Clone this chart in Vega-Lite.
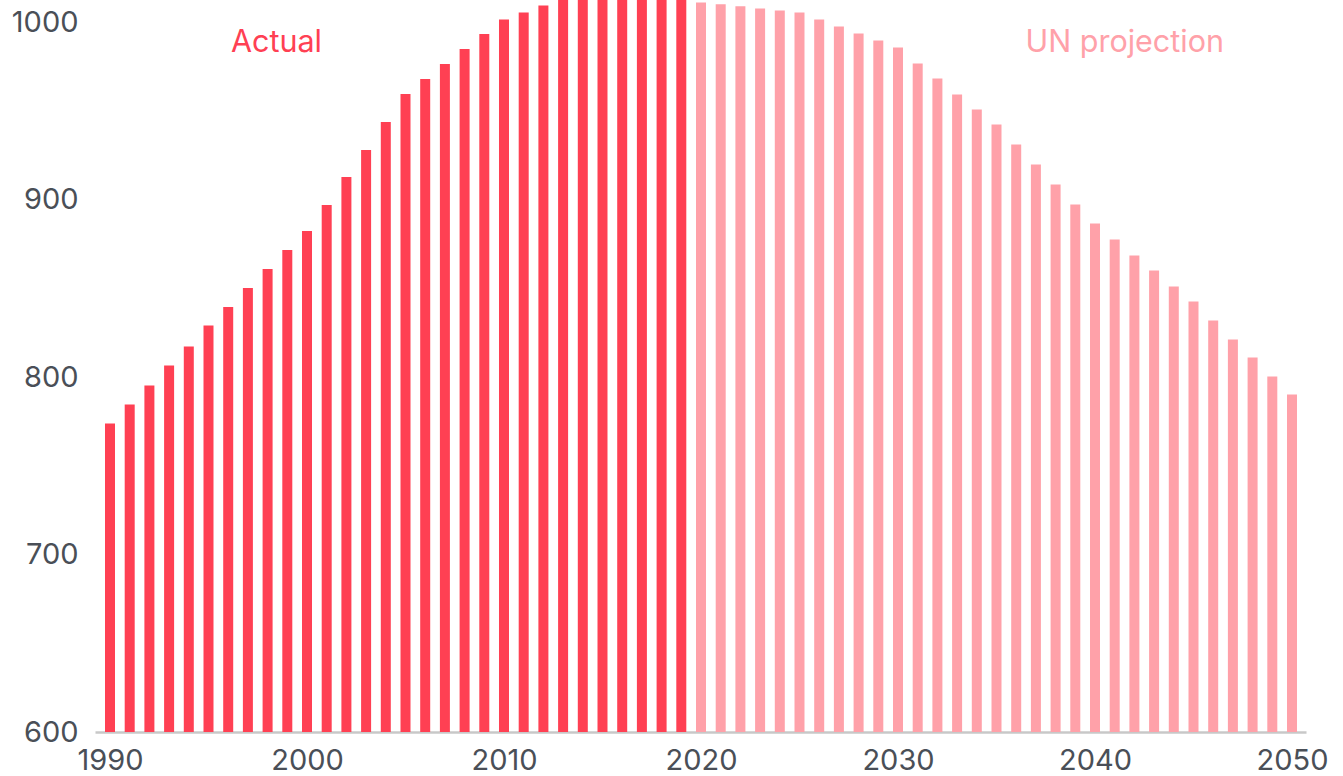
{
  "$schema": "https://vega.github.io/schema/vega-lite/v6.json",
  "autosize": "none",
  "width": 1211,
  "height": 732,
  "padding": {"left": 95, "top": 0, "right": 37, "bottom": 44},
  "background": "white",
  "config": {
    "view": {"stroke": null},
    "font": "Inter"
  },
  "datasets": {
    "bars": [
      {"year": 1990, "value": 773.8, "series": "Actual"},
      {"year": 1991, "value": 784.5, "series": "Actual"},
      {"year": 1992, "value": 795.2, "series": "Actual"},
      {"year": 1993, "value": 806.5, "series": "Actual"},
      {"year": 1994, "value": 817.2, "series": "Actual"},
      {"year": 1995, "value": 829.0, "series": "Actual"},
      {"year": 1996, "value": 839.4, "series": "Actual"},
      {"year": 1997, "value": 850.1, "series": "Actual"},
      {"year": 1998, "value": 860.8, "series": "Actual"},
      {"year": 1999, "value": 871.5, "series": "Actual"},
      {"year": 2000, "value": 882.3, "series": "Actual"},
      {"year": 2001, "value": 896.9, "series": "Actual"},
      {"year": 2002, "value": 912.7, "series": "Actual"},
      {"year": 2003, "value": 927.9, "series": "Actual"},
      {"year": 2004, "value": 943.7, "series": "Actual"},
      {"year": 2005, "value": 959.4, "series": "Actual"},
      {"year": 2006, "value": 967.9, "series": "Actual"},
      {"year": 2007, "value": 976.3, "series": "Actual"},
      {"year": 2008, "value": 984.8, "series": "Actual"},
      {"year": 2009, "value": 993.2, "series": "Actual"},
      {"year": 2010, "value": 1001.4, "series": "Actual"},
      {"year": 2011, "value": 1005.4, "series": "Actual"},
      {"year": 2012, "value": 1009.3, "series": "Actual"},
      {"year": 2013, "value": 1013, "series": "Actual"},
      {"year": 2014, "value": 1016, "series": "Actual"},
      {"year": 2015, "value": 1018, "series": "Actual"},
      {"year": 2016, "value": 1019, "series": "Actual"},
      {"year": 2017, "value": 1019, "series": "Actual"},
      {"year": 2018, "value": 1018, "series": "Actual"},
      {"year": 2019, "value": 1015, "series": "Actual"},
      {"year": 2020, "value": 1011.0, "series": "UN projection"},
      {"year": 2021, "value": 1010.0, "series": "UN projection"},
      {"year": 2022, "value": 1008.9, "series": "UN projection"},
      {"year": 2023, "value": 1007.6, "series": "UN projection"},
      {"year": 2024, "value": 1006.5, "series": "UN projection"},
      {"year": 2025, "value": 1005.4, "series": "UN projection"},
      {"year": 2026, "value": 1001.4, "series": "UN projection"},
      {"year": 2027, "value": 997.5, "series": "UN projection"},
      {"year": 2028, "value": 993.5, "series": "UN projection"},
      {"year": 2029, "value": 989.6, "series": "UN projection"},
      {"year": 2030, "value": 985.6, "series": "UN projection"},
      {"year": 2031, "value": 976.6, "series": "UN projection"},
      {"year": 2032, "value": 968.2, "series": "UN projection"},
      {"year": 2033, "value": 959.2, "series": "UN projection"},
      {"year": 2034, "value": 950.7, "series": "UN projection"},
      {"year": 2035, "value": 942.3, "series": "UN projection"},
      {"year": 2036, "value": 931.0, "series": "UN projection"},
      {"year": 2037, "value": 919.7, "series": "UN projection"},
      {"year": 2038, "value": 908.5, "series": "UN projection"},
      {"year": 2039, "value": 897.2, "series": "UN projection"},
      {"year": 2040, "value": 886.5, "series": "UN projection"},
      {"year": 2041, "value": 877.5, "series": "UN projection"},
      {"year": 2042, "value": 868.5, "series": "UN projection"},
      {"year": 2043, "value": 860.0, "series": "UN projection"},
      {"year": 2044, "value": 851.0, "series": "UN projection"},
      {"year": 2045, "value": 842.5, "series": "UN projection"},
      {"year": 2046, "value": 831.8, "series": "UN projection"},
      {"year": 2047, "value": 821.1, "series": "UN projection"},
      {"year": 2048, "value": 811.0, "series": "UN projection"},
      {"year": 2049, "value": 800.3, "series": "UN projection"},
      {"year": 2050, "value": 790.1, "series": "UN projection"}
    ],
    "labels": [
      {"year": 1998.45, "value": 983, "series": "Actual", "text": "Actual"},
      {"year": 2041.51, "value": 983, "series": "UN projection", "text": "UN projection"}
    ]
  },
  "encoding": {
    "x": {
      "field": "year",
      "type": "quantitative",
      "scale": {"domain": [1989.2386, 2050.7107], "nice": false, "zero": false, "padding": 0},
      "axis": {
        "title": null,
        "values": [1990, 2000, 2010, 2020, 2030, 2040, 2050],
        "format": "d",
        "grid": false,
        "ticks": false,
        "domainColor": "#c8c8c8",
        "domainWidth": 2.5,
        "labelFontSize": 29,
        "labelColor": "#4a4f57",
        "labelPadding": 14,
        "labelFont": "Inter",
        "labelFlush": false
      }
    },
    "y": {
      "field": "value",
      "type": "quantitative",
      "scale": {"domain": [600, 1012.4], "nice": false, "zero": false, "padding": 0},
      "axis": {
        "title": null,
        "values": [600, 700, 800, 900, 1000],
        "format": "d",
        "grid": false,
        "ticks": false,
        "domain": false,
        "labelFontSize": 29,
        "labelColor": "#4a4f57",
        "labelPadding": 17,
        "labelFont": "Inter",
        "labelFlush": false
      }
    },
    "color": {
      "field": "series",
      "type": "nominal",
      "scale": {"domain": ["Actual", "UN projection"], "range": ["#ff4053", "#ffa1a9"]},
      "legend": null
    }
  },
  "layer": [
    {
      "data": {"name": "bars"},
      "mark": {"type": "bar", "size": 10, "clip": true, "y2": {"expr": "height"}}
    },
    {
      "data": {"name": "labels"},
      "mark": {"type": "text", "fontSize": 30.5, "align": "center", "baseline": "alphabetic", "font": "Inter"},
      "encoding": {"text": {"field": "text"}}
    }
  ]
}
